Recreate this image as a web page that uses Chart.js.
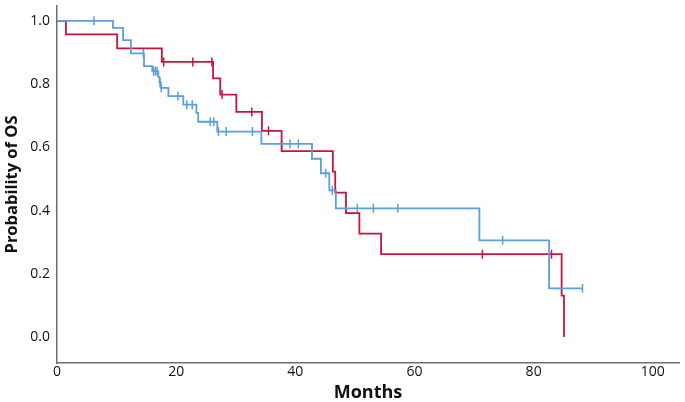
<!DOCTYPE html>
<html>
<head>
<meta charset="utf-8">
<script src="https://cdn.jsdelivr.net/npm/chart.js@4.4.1/dist/chart.umd.min.js"></script>
<style>
  html, body { margin: 0; padding: 0; background: #fff; }
  #wrap { width: 685px; height: 402px; }
</style>
</head>
<body>
<div id="wrap"><canvas id="c" width="685" height="402"></canvas></div>
<script>
// Kaplan-Meier step points: time (months) and survival after the event
const redTimes  = [0, 1.5, 10.1, 17.6, 26.2, 27.4, 30.1, 34.4, 37.7, 46.3, 46.7, 48.5, 50.75, 54.4, 84.7, 85.1];
const redSurv   = [1.0, 0.957, 0.913, 0.870, 0.818, 0.767, 0.712, 0.652, 0.588, 0.523, 0.457, 0.392, 0.327, 0.262, 0.131, 0.0];
const redCensor = [17.9, 22.8, 26.0, 27.7, 32.7, 35.5, 71.4, 83.0];

const blueTimes  = [0, 9.4, 11.1, 12.4, 14.6, 16.0, 17.0, 17.2, 17.4, 18.7, 21.2, 23.4, 23.7, 26.9, 34.3, 42.8, 44.3, 45.7, 46.8, 70.9, 82.6, 88.2];
const blueSurv   = [1.0, 0.978, 0.939, 0.897, 0.857, 0.841, 0.823, 0.805, 0.788, 0.762, 0.735, 0.709, 0.681, 0.650, 0.611, 0.564, 0.518, 0.464, 0.407, 0.306, 0.154, 0.154];
const blueCensor = [6.2, 14.5, 16.2, 16.5, 16.8, 17.3, 17.5, 20.3, 21.8, 22.7, 25.7, 26.3, 27.1, 28.4, 32.8, 37.7, 39.1, 40.5, 45.1, 46.2, 50.4, 53.1, 57.2, 74.8, 88.2];

const xTicks = [0, 20, 40, 60, 80, 100];
const yTicks = [0.0, 0.2, 0.4, 0.6, 0.8, 1.0];

const RED = '#c8143c';
const BLUE = '#5b9fdc';

function stepPts(t, s) { return t.map((x, i) => ({ x: x, y: s[i] })); }
function survAt(t, s, time) {
  let v = s[0];
  for (let i = 0; i < t.length; i++) { if (t[i] <= time) v = s[i]; }
  return v;
}
function censorPts(ct, t, s) { return ct.map(x => ({ x: x, y: survAt(t, s, x) })); }

const FONT = '"Open Sans", "DejaVu Sans", sans-serif';

new Chart(document.getElementById('c'), {
  type: 'line',
  data: {
    datasets: [
      { data: stepPts(blueTimes, blueSurv), borderColor: BLUE, borderWidth: 1.8, stepped: true, pointRadius: 0, fill: false },
      { data: stepPts(redTimes, redSurv), borderColor: RED, borderWidth: 1.8, stepped: true, pointRadius: 0, fill: false },
      { data: censorPts(blueCensor, blueTimes, blueSurv), showLine: false, pointStyle: 'line', rotation: 90, pointRadius: 4.5, borderColor: BLUE, backgroundColor: BLUE, pointBorderWidth: 1.5 },
      { data: censorPts(redCensor, redTimes, redSurv), showLine: false, pointStyle: 'line', rotation: 90, pointRadius: 4.5, borderColor: RED, backgroundColor: RED, pointBorderWidth: 1.5 }
    ]
  },
  options: {
    responsive: false,
    animation: false,
    layout: { padding: { top: 1, right: -3, left: 0, bottom: 0 } },
    plugins: { legend: { display: false }, tooltip: { enabled: false } },
    scales: {
      x: {
        type: 'linear', min: 0, max: 104.4,
        afterBuildTicks: s => { s.ticks = xTicks.map(v => ({ value: v })); },
        afterFit: s => { s.height = 39; s.paddingLeft = 0; s.paddingRight = 0; },
        grid: { display: false, drawTicks: false },
        border: { color: '#6e6e6e', width: 1.5 },
        ticks: { padding: 1, color: '#111', font: { family: FONT, size: 14 }, maxRotation: 0, callback: v => String(v) },
        title: { display: true, text: 'Months', color: '#111', font: { family: FONT, size: 18, weight: 'bold', lineHeight: 1.0 }, padding: { top: 0, bottom: 0 } }
      },
      y: {
        type: 'linear', min: -0.082, max: 1.047,
        afterBuildTicks: s => { s.ticks = yTicks.map(v => ({ value: v })); },
        afterFit: s => { s.width = 57; s.paddingTop = 0; s.paddingBottom = 0; },
        grid: { display: false, drawTicks: false },
        border: { color: '#6e6e6e', width: 1.5 },
        ticks: { padding: 7, color: '#111', font: { family: FONT, size: 14 }, callback: v => v.toFixed(1) },
        title: { display: true, text: 'Probability of OS', color: '#111', font: { family: FONT, size: 16.5, weight: 'bold' }, padding: { top: 2, bottom: 0 } }
      }
    }
  }
});
</script>
</body>
</html>
